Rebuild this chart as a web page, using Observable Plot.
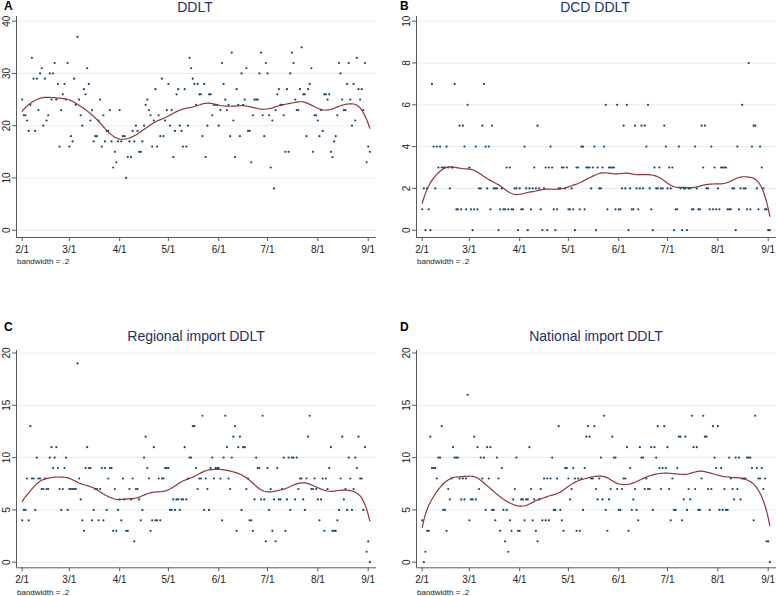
<!DOCTYPE html>
<html><head><meta charset="utf-8">
<script src="https://cdn.jsdelivr.net/npm/d3@7"></script>
<script src="https://cdn.jsdelivr.net/npm/@observablehq/plot@0.6"></script>
<style>
body{margin:0;background:#fff;}
#root{position:relative;width:776px;height:596px;overflow:hidden;background:#fff;font-family:"Liberation Sans",Arial,sans-serif;}
.panel{position:absolute;}
#overlay{position:absolute;left:0;top:0;pointer-events:none;}
</style>
</head><body><div id="root"></div>
<script>
// Days counted from 2/1 (2020); one observation per day through 9/2
const monthTickDays = [0, 29, 60, 90, 121, 151, 182, 213];
const monthTickLabels = ["2/1", "3/1", "4/1", "5/1", "6/1", "7/1", "8/1", "9/1"];
const panelLetters = ["A", "B", "C", "D"];
const panelTitles = ["DDLT", "DCD DDLT", "Regional import DDLT", "National import DDLT"];
const bandwidthNote = "bandwidth = .2";
const bandwidth = 0.2;

const ddlt = [
25,22,22,21,19,24,33,29,19,29, 23,30,31,20,29,21,22,30,25,30,
32,25,28,16,23,26,28,25,32,16, 18,17,29,24,37,25,22,20,27,26,
31,28,21,23,17,18,18,21,25,16, 22,17,19,19,23,17,12,15,13,17,
23,17,18,18,10,14,17,14,19,17, 20,19,15,15,17,20,24,25,23,22,
16,21,27,16,22,18,29,18,21,23, 28,20,23,14,19,26,27,20,19,16,
27,16,20,33,31,29,28,24,28,26,
26,18,28,14,20,26,26,22,24,24, 24,20,23,32,28,25,23,24,18,34,
21,14,27,24,18,30,24,25,31,19, 19,13,22,25,25,25,30,34,22,18,
32,30,22,12,21,8,23,26,27,24, 24,22,15,27,15,30,34,32,25,23,
23,27,35,26,26,18,27,28,31,15, 22,22,21,18,23,19,26,26,25,26,
15,14,17,18,22,32,30,25,23,23, 28,32,25,20,28,21,33,27,25,27,
23,32,13,16,15];

const dcdDdlt = [
1,2,0,2,1,0,7,4,2,4, 3,4,3,3,3,4,3,2,3,3,
7,1,1,5,1,5,4,1,6,3, 1,0,1,4,1,2,2,5,7,4,
2,4,1,5,2,2,2,0,1,2, 1,1,3,1,3,1,1,2,2,0,
2,1,1,4,2,0,2,1,2,3, 2,5,2,1,0,2,3,0,3,4,
3,1,0,1,2,2,3,3,2,3, 1,1,2,1,0,3,3,1,4,4,
1,3,3,3,2,3,4,0,3,2, 2,3,4,6,1,3,3,3,3,1,
6,1,1,2,5,2,6,0,2,1, 1,5,2,1,2,5,2,5,4,6,
2,1,0,3,2,2,3,2,2,5, 4,2,3,2,3,0,1,1,4,2,
0,2,2,0,2,2,1,1,4,2, 1,1,5,3,5,2,2,1,4,1,
3,1,2,1,3,3,3,3,1,1, 1,2,2,0,4,1,2,6,2,2,
1,8,1,4,5,5,2,1,4,3, 2,1,1,0,0];

const regionalImport = [
4,5,5,8,4,13,8,8,5,10,8,
8,7,7,8,7,7,10,11,9,10, 11,9,7,5,7,9,10,5,7,7,
7,7,7,19,8,6,4,3,9,11, 9,9,4,5,7,7,4,7,9,4,
9,5,8,9,9,3,7,3,5,6, 4,8,6,3,3,7,6,8,2,7,
7,6,4,5,10,12,9,8,3,4, 11,4,4,8,4,8,8,9,9,9,
5,5,6,5,6,6,5,6,6,11, 6,8,10,10,13,13,9,7,8,8,
14,5,8,7,5,9,10,8,9,9, 9,8,4,10,14,11,8,7,10,12,
13,3,11,12,5,11,11,7,8,4, 4,3,6,10,9,9,6,14,6,2,
9,5,7,3,6,2,9,6,6,7, 10,3,6,10,5,10,10,6,10,7,
8,8,6,5,8,12,14,7,7,8, 7,6,4,6,8,3,8,7,9,11,
3,3,3,4,5,8,12,6,7,5, 10,8,5,7,10,9,12,8,8,5,
11,1,2,0];

const nationalImport = [
4,0,1,3,3,12,9,9,9,8, 10,10,13,5,5,3,7,6,8,11,
10,10,10,8,6,8,6,8,16,4, 6,6,12,6,11,7,10,8,10,5,
11,8,11,5,5,4,10,8,3,9, 5,2,5,1,4,3,6,7,10,3,
3,6,6,4,6,6,11,7,4,6, 3,2,6,7,4,8,4,8,4,8,
10,5,5,8,13,5,4,3,9,9, 8,6,7,9,8,3,8,3,8,5,
9,12,13,12,8,8,13,7,6,8, 10,6,14,5,3,6,7,12,10,10,
7,5,5,7,8,8,11,3,9,5, 6,7,5,4,11,10,10,7,8,7,
7,11,5,11,10,13,9,7,9,13, 9,11,7,4,8,5,5,9,12,12,
4,6,12,5,7,6,14,11,7,11, 5,5,8,14,12,12,7,5,7,13,
10,9,13,5,9,5,7,5,5,10, 8,7,6,10,7,10,6,8,8,8,
10,10,10,9,4,14,9,8,8,9, 7,8,2,2,0];

const yTicksA = [0, 10, 20, 30, 40];
const yTicksB = [0, 2, 4, 6, 8, 10];
const yTicksC = [0, 5, 10, 15, 20];
const yTicksD = [0, 5, 10, 15, 20];

// Stata-style lowess (running-line, tricube weights)
function lowess(xs, ys, bw) {
  const n = xs.length;
  const k = Math.floor((n * bw - 0.5) / 2);
  const out = [];
  for (let i = 0; i < n; i++) {
    const lo = Math.max(0, i - k), hi = Math.min(n - 1, i + k);
    const delta = 1.0001 * Math.max(xs[hi] - xs[i], xs[i] - xs[lo]);
    let sw = 0, swx = 0, swy = 0, swxx = 0, swxy = 0;
    for (let j = lo; j <= hi; j++) {
      const u = Math.abs(xs[j] - xs[i]) / delta;
      const w = Math.pow(1 - u * u * u, 3);
      sw += w; swx += w * xs[j]; swy += w * ys[j];
      swxx += w * xs[j] * xs[j]; swxy += w * xs[j] * ys[j];
    }
    const mx = swx / sw, my = swy / sw;
    const vx = swxx / sw - mx * mx;
    const b = vx > 1e-12 ? (swxy / sw - mx * my) / vx : 0;
    out.push(my + b * (xs[i] - mx));
  }
  return out;
}

const NAVY = "#1a476f", MAROON = "#90353b", GRID = "#e6eef0", AXIS = "#5a5a5a";

const panels = [
  {values: ddlt, ticks: yTicksA, left: 0, top: 0, height: 270, mt: 16, mb: 33, below: 7.3, above: 4.7, span: 209},
  {values: dcdDdlt, ticks: yTicksB, left: 400, top: 0, height: 270, mt: 16, mb: 33, below: 7.3, above: 4.7, span: 209},
  {values: regionalImport, ticks: yTicksC, left: 0, top: 330, height: 266, mt: 20, mb: 28.7, below: 5.6, above: 2.5, span: 209.2},
  {values: nationalImport, ticks: yTicksD, left: 400, top: 330, height: 266, mt: 20, mb: 28.7, below: 5.6, above: 2.5, span: 209.2}
];

const root = document.getElementById("root");
const xDomain = [-3.51, 218.1];

panels.forEach((p) => {
  const data = p.values.map((v, i) => ({day: i, v}));
  const xs = data.map(d => d.day), ys = data.map(d => d.v);
  const sm = lowess(xs, ys, bandwidth).map((s, i) => ({day: xs[i], s}));
  const yMax = p.ticks[p.ticks.length - 1];
  const yDomain = [-p.below / p.span * yMax, yMax + p.above / p.span * yMax];
  const chart = Plot.plot({
    width: 376,
    height: p.height,
    marginLeft: 16,
    marginRight: 0,
    marginTop: p.mt,
    marginBottom: p.mb,
    style: {fontFamily: '"Liberation Sans", Arial, sans-serif', fontSize: "10px", background: "transparent", overflow: "visible"},
    x: {domain: xDomain, axis: null},
    y: {domain: yDomain, axis: null},
    marks: [
      Plot.gridY(p.ticks, {stroke: GRID, strokeOpacity: 1, strokeWidth: 1}),
      Plot.ruleX([xDomain[0]], {stroke: AXIS, strokeWidth: 1}),
      Plot.ruleY([yDomain[0]], {stroke: AXIS, strokeWidth: 1}),
      Plot.axisY(p.ticks, {anchor: "left", tickSize: 4, tickPadding: 3, tickRotate: -90, stroke: AXIS, fill: "#222", label: null, fontSize: 10}),
      Plot.axisX(monthTickDays, {anchor: "bottom", tickSize: 4, tickPadding: 4.4, stroke: AXIS, fill: "#222", label: null, fontSize: 10, tickFormat: (d) => monthTickLabels[monthTickDays.indexOf(d)]}),
      Plot.dot(data, {x: "day", y: "v", r: 1.1, fill: NAVY, stroke: null}),
      Plot.line(sm, {x: "day", y: "s", stroke: MAROON, strokeWidth: 1.2})
    ]
  });
  const wrap = document.createElement("div");
  wrap.className = "panel";
  wrap.style.left = p.left + "px";
  wrap.style.top = p.top + "px";
  wrap.appendChild(chart);
  root.appendChild(wrap);
});

// Overlay text: panel letters, titles, bandwidth notes
const ov = d3.select(root).append("svg").attr("id", "overlay").attr("width", 776).attr("height", 596)
  .style("font-family", '"Liberation Sans", Arial, sans-serif');
const letterPos = [[4, 10], [400, 10], [4, 331], [400, 331]];
const titlePos = [[195, 12], [595, 12], [196, 341], [596, 341]];
const notePos = [[17, 263.5], [417, 263.5], [17, 595], [417, 595]];
panelLetters.forEach((L, i) => {
  ov.append("text").attr("x", letterPos[i][0]).attr("y", letterPos[i][1]).attr("font-size", 12).attr("font-weight", "bold").attr("fill", "#000").text(L);
  ov.append("text").attr("x", titlePos[i][0]).attr("y", titlePos[i][1]).attr("font-size", 14).attr("text-anchor", "middle").attr("fill", "#1f3060").text(panelTitles[i]);
  ov.append("text").attr("x", notePos[i][0]).attr("y", notePos[i][1]).attr("font-size", 8).attr("fill", "#222").text(bandwidthNote);
});
</script>
</body></html>
